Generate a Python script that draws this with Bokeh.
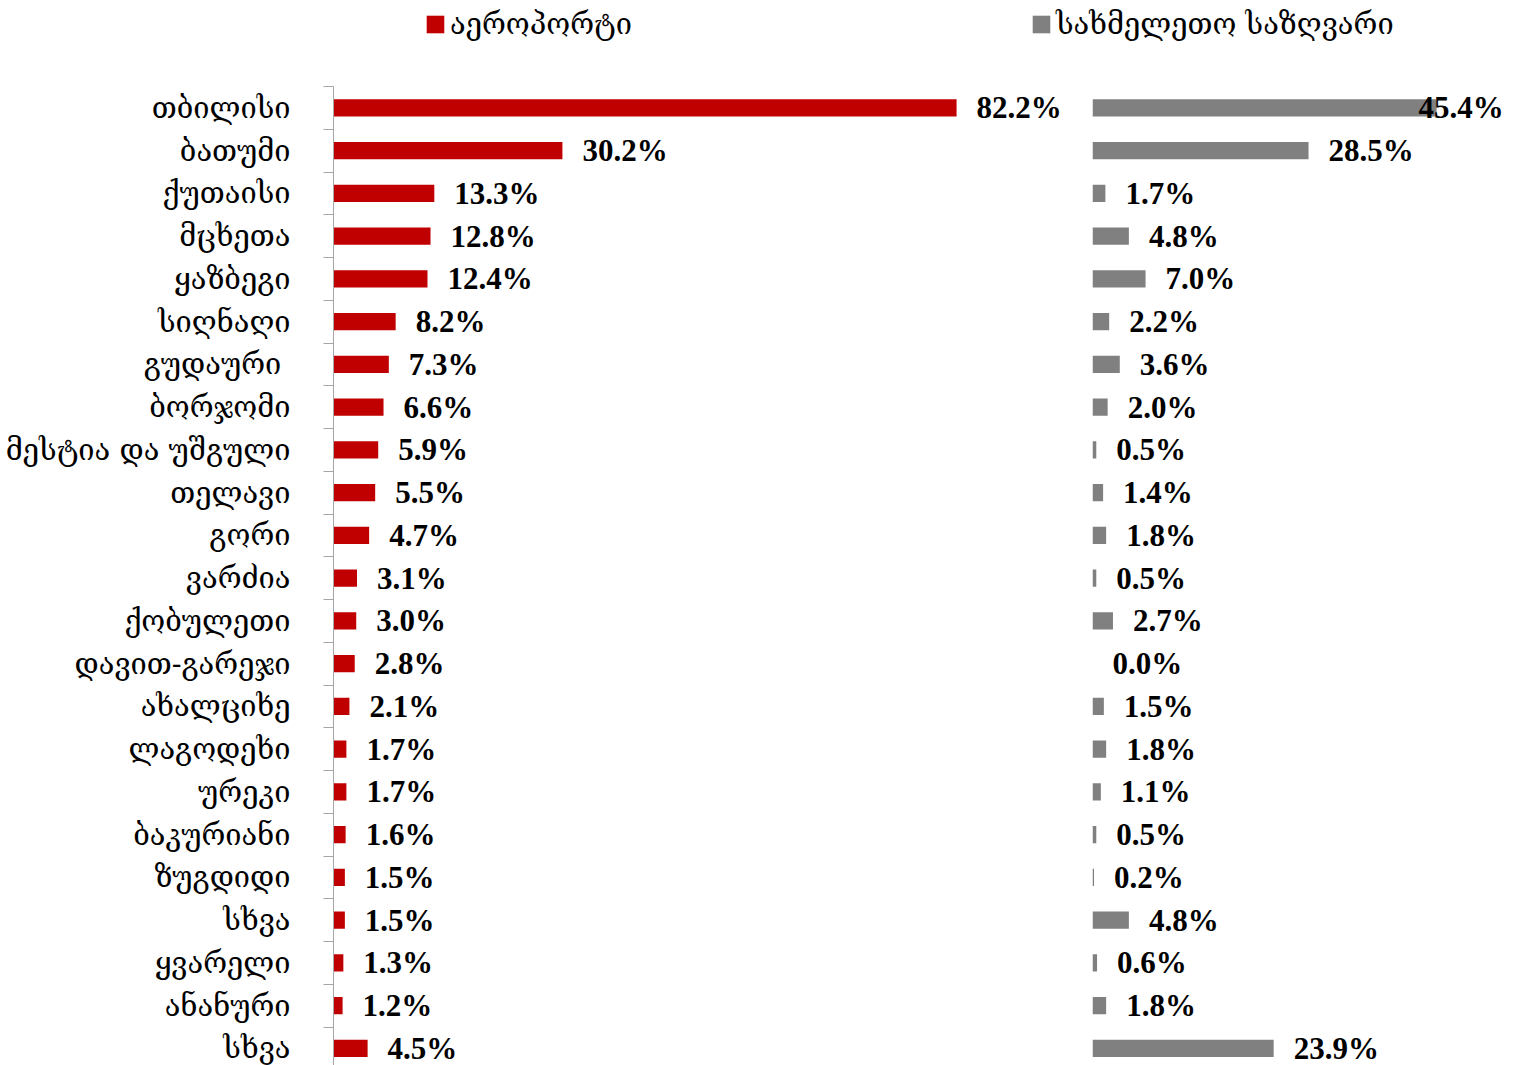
from bokeh.plotting import figure
from bokeh.models import Range1d, FixedTicker, Legend, LegendItem, ColumnDataSource
from bokeh.layouts import column, row
from bokeh.embed import file_html
from bokeh.resources import INLINE
from bokeh.core.properties import value

# ---------------- data ----------------
categories = [
    "თბილისი", "ბათუმი", "ქუთაისი", "მცხეთა", "ყაზბეგი", "სიღნაღი", "გუდაური ",
    "ბორჯომი", "მესტია და უშგული", "თელავი", "გორი", "ვარძია", "ქობულეთი",
    "დავით-გარეჯი", "ახალციხე", "ლაგოდეხი", "ურეკი", "ბაკურიანი", "ზუგდიდი",
    "სხვა", "ყვარელი", "ანანური", "სხვა",
]
airport = [82.2, 30.2, 13.3, 12.8, 12.4, 8.2, 7.3, 6.6, 5.9, 5.5, 4.7, 3.1, 3.0,
           2.8, 2.1, 1.7, 1.7, 1.6, 1.5, 1.5, 1.3, 1.2, 4.5]
land = [45.4, 28.5, 1.7, 4.8, 7.0, 2.2, 3.6, 2.0, 0.5, 1.4, 1.8, 0.5, 2.7,
        0.0, 1.5, 1.8, 1.1, 0.5, 0.2, 4.8, 0.6, 1.8, 23.9]
series_names = ["აეროპორტი", "სახმელეთო საზღვარი"]

# ---------------- styling ----------------
RED = "#C00000"
GRAY = "#808080"
AXIS_GRAY = "#A6A6A6"
GEO_FONT = "DejaVu Serif"
NUM_FONT = "Liberation Serif"
PX_PER_UNIT = 7.58
LAB_OFF = 20
LAB_W = 96  # room kept for a value label at the right edge

n = len(categories)
ys = [n - 1 - i for i in range(n)]

LEFT_W, RIGHT_W, MAIN_H, LEG_H = 1084, 430, 979, 86
LEFT_BORDER = 333
RIGHT_BORDER = 8
xl_end = (LEFT_W - LEFT_BORDER) / PX_PER_UNIT
xr_end = (RIGHT_W - RIGHT_BORDER) / PX_PER_UNIT
y_rng = (-0.4, n - 0.5)

src = ColumnDataSource(dict(
    y=ys, cat=categories, air=airport, land=land,
    air_lab=[f"{v:.1f}%" for v in airport],
    land_lab=[f"{v:.1f}%" for v in land],
    land_lab_x=[min(v, xr_end - (LAB_OFF + LAB_W) / PX_PER_UNIT) for v in land],
))

# ---------------- left panel ----------------
pl = figure(width=LEFT_W, height=MAIN_H, x_range=Range1d(0, xl_end),
            y_range=Range1d(*y_rng), output_backend="svg", toolbar_location=None,
            x_axis_location=None, min_border_left=LEFT_BORDER, min_border_right=0,
            min_border_top=0, min_border_bottom=0, outline_line_color=None)
pl.grid.visible = False
pl.hbar(y="y", left=0, right="air", height=0.4, source=src, fill_color=RED, line_color=None)
pl.text(x="air", y="y", text="air_lab", source=src, x_offset=LAB_OFF,
        text_font=value(NUM_FONT), text_font_style="bold", text_font_size="31px",
        text_baseline="middle", text_align="left", text_color="black")

ax = pl.yaxis[0]
ax.ticker = FixedTicker(ticks=ys, minor_ticks=[k - 0.5 for k in range(n + 1)])
ax.major_label_overrides = {y: c for y, c in zip(ys, categories)}
ax.major_tick_line_color = None
ax.major_tick_out = 0
ax.major_tick_in = 0
ax.minor_tick_out = 10
ax.minor_tick_in = 0
ax.minor_tick_line_color = AXIS_GRAY
ax.axis_line_color = AXIS_GRAY
ax.major_label_standoff = 33
ax.major_label_text_font = GEO_FONT
ax.major_label_text_font_size = "29px"
ax.major_label_text_color = "black"

# ---------------- right panel ----------------
pr = figure(width=RIGHT_W, height=MAIN_H, x_range=Range1d(0, xr_end),
            y_range=Range1d(*y_rng), output_backend="svg", toolbar_location=None,
            x_axis_location=None, y_axis_location=None, min_border_left=RIGHT_BORDER,
            min_border_right=0, min_border_top=0, min_border_bottom=0,
            outline_line_color=None)
pr.grid.visible = False
pr.hbar(y="y", left=0, right="land", height=0.4, source=src, fill_color=GRAY, line_color=None)
pr.text(x="land_lab_x", y="y", text="land_lab", source=src, x_offset=LAB_OFF,
        text_font=value(NUM_FONT), text_font_style="bold", text_font_size="31px",
        text_baseline="middle", text_align="left", text_color="black")

# ---------------- legend ----------------
pg = figure(width=LEFT_W + RIGHT_W, height=LEG_H, x_range=Range1d(0, 1), y_range=Range1d(0, 1),
            output_backend="svg", toolbar_location=None, x_axis_location=None,
            y_axis_location=None, min_border=0, outline_line_color=None)
pg.grid.visible = False
# legend proxies: zero-size bars, only their colours are used by the legend
r_red = pg.hbar(y=[0.5], left=[0], right=[0], height=0, fill_color=RED, line_color=None)
r_gray = pg.hbar(y=[0.5], left=[0], right=[0], height=0, fill_color=GRAY, line_color=None)

for rend, name, xloc in [(r_red, series_names[0], 424), (r_gray, series_names[1], 1030)]:
    lg = Legend(items=[LegendItem(label=name, renderers=[rend])], location=(xloc, 45),
                orientation="horizontal", padding=0, margin=0, border_line_color=None,
                background_fill_alpha=0, glyph_width=22, glyph_height=22, label_standoff=4,
                label_text_font=GEO_FONT, label_text_font_size="29px",
                label_text_color="black")
    pg.add_layout(lg, "center")

layout = column(pg, row(pl, pr, spacing=0), spacing=0)
open("out.html", "w").write(file_html(layout, INLINE))
